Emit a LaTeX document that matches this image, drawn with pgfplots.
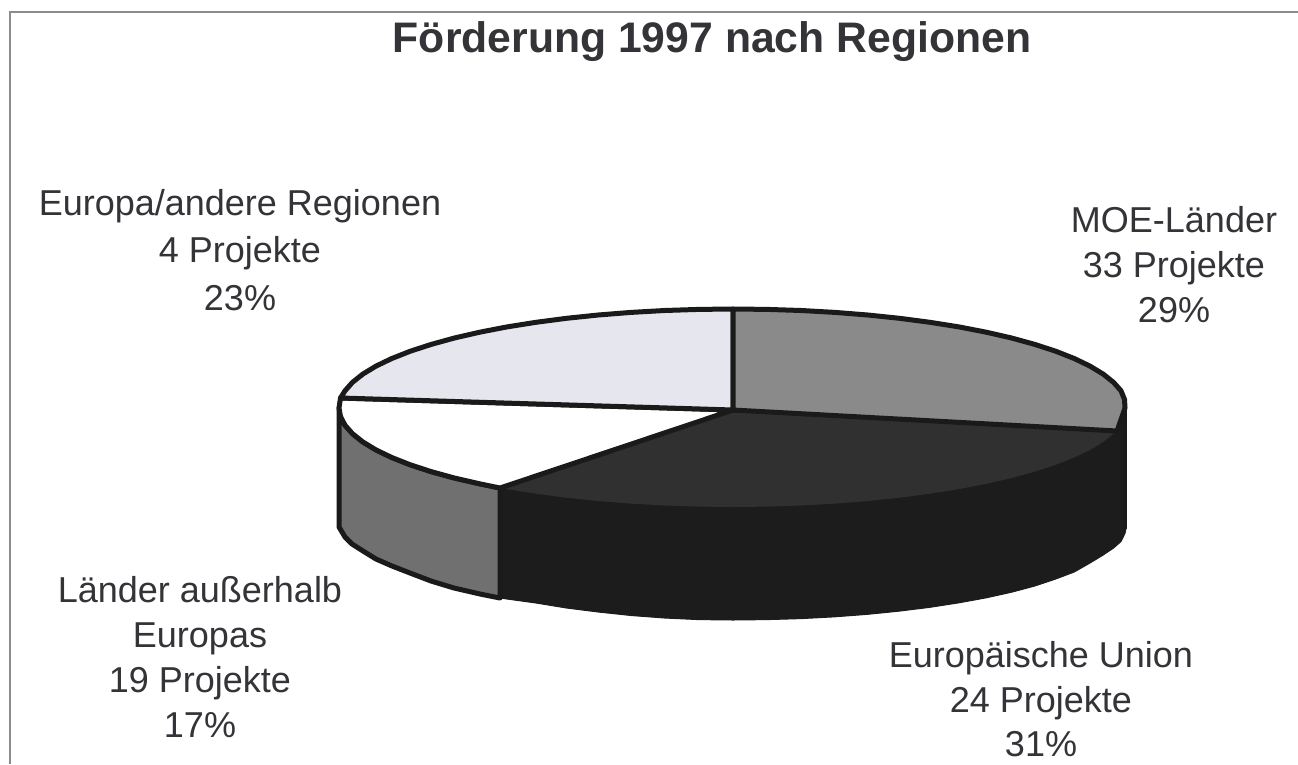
\documentclass[border=0pt]{standalone}
\usepackage{pgfplots}
\pgfplotsset{compat=1.18}
\usepackage{fontspec}
\setmainfont{Liberation Sans}
\definecolor{lightS}{HTML}{E6E6EE}
\definecolor{moe}{HTML}{8A8A8A}
\definecolor{darkTop}{HTML}{303030}
\definecolor{darkSide}{HTML}{1C1C1C}
\definecolor{greySide}{HTML}{707070}
\definecolor{ink}{HTML}{1A1A1A}
\definecolor{txt}{HTML}{333338}
\definecolor{frameC}{HTML}{8C8C90}
\begin{document}
\begin{tikzpicture}
\begin{axis}[
  width=1298pt,height=764pt,scale only axis,
  xmin=0,xmax=1298,ymin=0,ymax=764,y dir=reverse,
  hide axis,clip=true,
]
% page background
\addplot[draw=none,fill=white,forget plot] coordinates {(0,0)(1298,0)(1298,764)(0,764)} -- cycle;
% frame
\addplot[draw=frameC,line width=1.6pt,forget plot] coordinates {(10,764)(10,12)(1298,12)};
% side: dark (Europaeische Union)
\addplot[draw=darkSide,fill=darkSide,line width=1pt,line join=round] coordinates {
(1126,408)(1126,528)(1125,533.3)(1121,541.5)(1113.6,548)(1103.2,555)(1090,563)(1074.2,572)(1055.7,579)(1034.8,586)(1011.6,592.2)(986.3,597.8)(959,602.8)(930,607.3)(899.5,611.1)(867.8,614.3)(835,616.8)(801.4,618.6)(767.3,619.6)(733,620)
(698.7,619.6)(664.6,618)(631,615.5)(598.2,612)(566.5,608)(536,603)(507,599)(500,598)(500,488)
(536,493.7)(566.5,497.7)(598.2,501)(631,503.6)(664.6,505.5)(698.7,506.6)(733,507)(767.3,506.6)(801.4,505.5)(835,503.6)(867.8,501)(899.5,497.7)(930,493.7)(959,489.1)(986.3,483.8)(1011.6,478)(1034.8,471.6)(1055.7,464.8)(1074.2,457.5)(1090,449.9)(1103.2,441.9)(1113.6,433.6)(1121,425.2)(1125,416.6)} -- cycle;
% side: grey (Laender ausserhalb Europas)
\addplot[draw=ink,fill=greySide,line width=5pt,line join=round] coordinates {
(500,488)(500,598)(480,594)(454,588)(431,581)(410,573)(392,566)(376,559)(363,551)(352,544)(345,537)(339,527)(339,408)(340.5,416.6)(345,425.2)(352.4,433.6)(362.8,441.9)(376,449.9)(391.8,457.5)(410.3,464.8)(431.2,471.6)(454.4,478)(479.7,483.8)} -- cycle;
% top: Europaeische Union
\addplot[draw=none,fill=darkTop] coordinates {
(733,410)(1117,431)(1113.6,433.6)(1103.2,441.9)(1090,449.9)(1074.2,457.5)(1055.7,464.8)(1034.8,471.6)(1011.6,478)(986.3,483.8)(959,489.1)(930,493.7)(899.5,497.7)(867.8,501)(835,503.6)(801.4,505.5)(767.3,506.6)(733,507)(698.7,506.6)(664.6,505.5)(631,503.6)(598.2,501)(566.5,497.7)(536,493.7)(500,488)} -- cycle;
% top: white slice
\addplot[draw=ink,fill=white,line width=5pt,line join=round] coordinates {
(733,410)(500,488)(479.7,483.8)(454.4,478)(431.2,471.6)(410.3,464.8)(391.8,457.5)(376,449.9)(362.8,441.9)(352.4,433.6)(345,425.2)(340.5,416.6)(339,408)(340.5,398)} -- cycle;
% top: light slice
\addplot[draw=ink,fill=lightS,line width=5pt,line join=round] coordinates {
(733,410)(340.5,398)(345,390.8)(352.4,382.4)(362.8,374.1)(376,366.1)(391.8,358.5)(410.3,351.2)(431.2,344.4)(454.4,338)(479.7,332.2)(507,326.9)(536,322.3)(566.5,318.3)(598.2,315)(631,312.4)(664.6,310.5)(698.7,309.4)(733,309)} -- cycle;
% top: MOE slice
\addplot[draw=ink,fill=moe,line width=5pt,line join=round] coordinates {
(733,410)(733,309)(767.3,309.4)(801.4,310.5)(835,312.4)(867.8,315)(899.5,318.3)(930,322.3)(959,326.9)(986.3,332.2)(1011.6,338)(1034.8,344.4)(1055.7,351.2)(1074.2,358.5)(1090,366.1)(1103.2,374.1)(1113.6,382.4)(1121,390.8)(1124.5,399.4)(1125,408)(1117,431)} -- cycle;
% right rim
\addplot[draw=ink,line width=4pt,line cap=round] coordinates {(1125,408)(1125,528)};
% texts
\node[text=txt,font=\bfseries\fontsize{42.7}{50}\selectfont,anchor=center] at (axis cs:712,42) {Förderung 1997 nach Regionen};
\node[text=txt,font=\fontsize{36}{47.5}\selectfont,align=center,anchor=center] at (axis cs:240,250) {Europa/andere Regionen\\4 Projekte\\23\%};
\node[text=txt,font=\fontsize{36}{45}\selectfont,align=center,anchor=center] at (axis cs:1174,264.5) {MOE-Länder\\33 Projekte\\29\%};
\node[text=txt,font=\fontsize{36}{45}\selectfont,align=center,anchor=center] at (axis cs:200,657) {Länder außerhalb\\Europas\\19 Projekte\\17\%};
\node[text=txt,font=\fontsize{36}{44.5}\selectfont,align=center,anchor=center] at (axis cs:1041,699.5) {Europäische Union\\24 Projekte\\31\%};
\end{axis}
\end{tikzpicture}
\end{document}
